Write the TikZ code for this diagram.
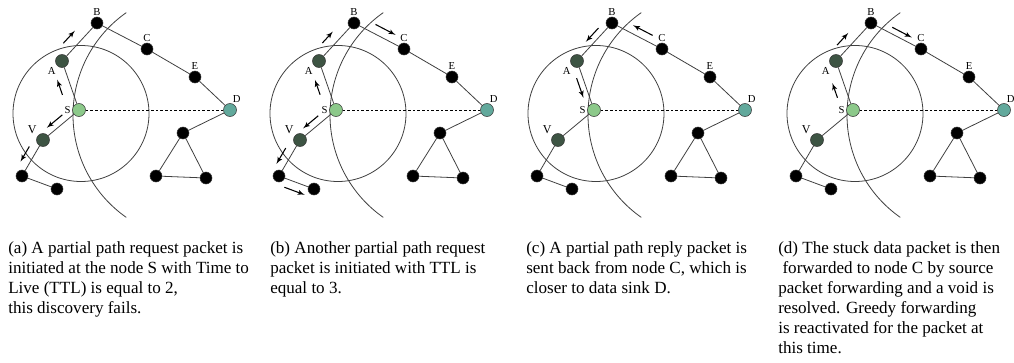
\documentclass[tikz,border=0pt]{standalone}
\usepackage{fontspec}
\setmainfont{Liberation Serif}
\usetikzlibrary{arrows,calc}

\definecolor{relaygreen}{HTML}{3D5443}
\definecolor{sourcegreen}{HTML}{8CC98A}
\definecolor{sinkteal}{HTML}{62A99C}

\tikzset{
	sensor/.style={circle, draw=black!80, fill=black, inner sep=0pt, minimum size=9pt},
	relay/.style={sensor, fill=relaygreen, minimum size=9.75pt},
	source/.style={sensor, fill=sourcegreen, minimum size=9.75pt},
	sink/.style={sensor, fill=sinkteal, minimum size=9.75pt},
	link/.style={draw=black!75, line width=0.6pt},
	hoparrow/.style={-latex', line width=0.8pt},
	tag/.style={font=\footnotesize, inner sep=1pt},
	caption/.style={anchor=north west, align=left, inner sep=0pt, font=\fontsize{12.8pt}{15pt}\selectfont}
}

% short arrow beside the link #1--#2, from #3 to #4 of its length, #5 off to the side
\newcommand{\hop}[5]{\draw[hoparrow] ($(#1)!#3!(#2)!#5!90:(#2)$) -- ($(#1)!#4!(#2)!#5!90:(#2)$);}

\begin{document}
\begin{tikzpicture}[x=0.75pt, y=-0.75pt]
	\useasboundingbox (0,0) rectangle (1014,362);
	%Netz viermal zeichnen
	\foreach \p/\ox in {a/0,b/257,c/515,d/774}
	{
		\begin{scope}[shift={(\ox,0)}]
			\draw[link] (81,113.5) circle[radius=68];
			\draw[link] (198,115) ++(235:125) arc[start angle=235, end angle=125, radius=125];
			\node[sensor, label={[tag]above:B}] (B-\p) at (97,23) {};
			\node[sensor, label={[tag]above:C}] (C-\p) at (147,49) {};
			\node[sensor, label={[tag]above:E}] (E-\p) at (195,77) {};
			\node[sink, label={[tag, xshift=-1.5pt]60:D}] (D-\p) at (230,110) {};
			\node[source, label={[tag]left:S}] (S-\p) at (79,110) {};
			\node[relay, label={[tag]below left:A}] (A-\p) at (62,61) {};
			\node[relay, label={[tag,font=\small]above left:V}] (V-\p) at (43,140) {};
			\node[sensor] (L1-\p) at (22,176) {};
			\node[sensor] (L2-\p) at (57,189) {};
			\node[sensor] (T1-\p) at (183,133) {};
			\node[sensor] (T2-\p) at (156,176) {};
			\node[sensor] (T3-\p) at (206,178) {};
			\draw[link] (S-\p) -- (A-\p) -- (B-\p) -- (C-\p) -- (E-\p) -- (D-\p) -- (T1-\p) -- (T2-\p) -- (T3-\p) -- (T1-\p);
			\draw[link] (S-\p) -- (V-\p) -- (L1-\p) -- (L2-\p);
			\draw[dash pattern=on 2pt off 1.5pt, line width=0.6pt] (S-\p) -- (D-\p);
		\end{scope}
	}
	%(a) Anfrage mit TTL 2
	\hop{A-a}{B-a}{.27}{.6}{8.3pt}
	\hop{S-a}{A-a}{.38}{.69}{8pt}
	\hop{S-a}{V-a}{.34}{.77}{-5.2pt}
	\hop{V-a}{L1-a}{.3}{.72}{-6.4pt}
	%(b) Anfrage mit TTL 3
	\hop{A-b}{B-b}{.3}{.6}{7.3pt}
	\hop{B-b}{C-b}{.35}{.75}{6.5pt}
	\hop{S-b}{A-b}{.38}{.68}{7.5pt}
	\hop{S-b}{V-b}{.37}{.79}{-5.2pt}
	\hop{V-b}{L1-b}{.34}{.78}{-6.2pt}
	\hop{L1-b}{L2-b}{.24}{.82}{-6.5pt}
	%(c) Antwort von C
	\hop{B-c}{A-c}{.25}{.61}{-4.9pt}
	\hop{C-c}{B-c}{.26}{.65}{-5.8pt}
	\hop{A-c}{S-c}{.31}{.71}{-4.5pt}
	%(d) Weiterleitung nach C
	\hop{A-d}{B-d}{.24}{.56}{7.5pt}
	\hop{B-d}{C-d}{.37}{.76}{4.5pt}
	\hop{S-d}{A-d}{.32}{.62}{8pt}
	%Beschriftungen
	\node[caption] (cap-a) at (8,241) {(a) A partial path request packet is\\initiated at the node S with Time to\\Live (TTL) is equal to 2,\\this discovery fails.};
	\node[caption] (cap-b) at (270,241) {(b) Another partial path request\\packet is initiated with TTL is\\equal to 3.};
	\node[caption] (cap-c) at (526,241) {(c) A partial path reply packet is\\sent back from node C, which is\\closer to data sink D.};
	\node[caption] (cap-d) at (778,241) {(d) The stuck data packet is then\\\ forwarded to node C by source\\packet forwarding and a void is\\resolved. Greedy forwarding\\is reactivated for the packet at\\this time.};
\end{tikzpicture}
\end{document}
